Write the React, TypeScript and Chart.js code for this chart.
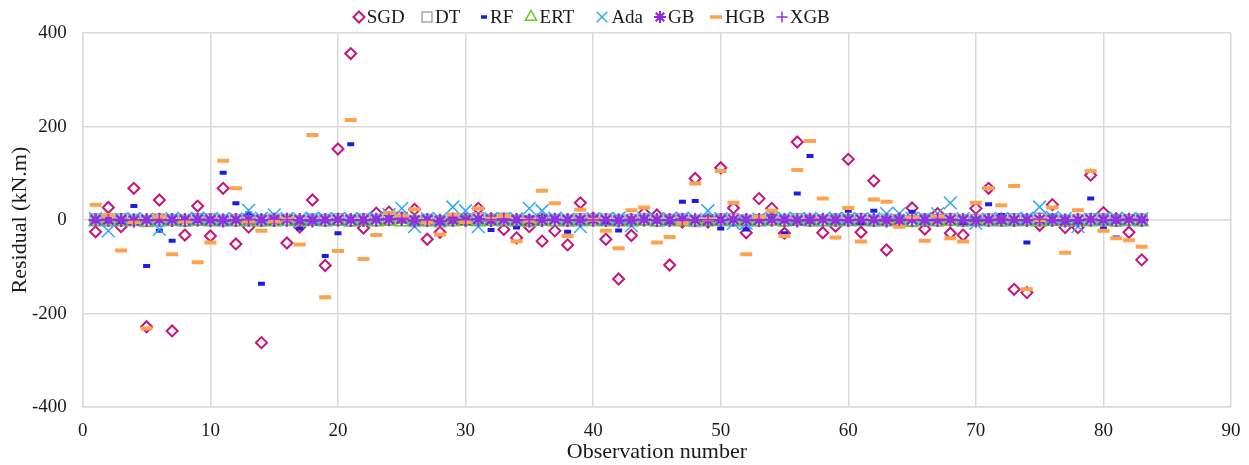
import { useEffect, useRef } from 'react';
import { Chart, registerables } from 'chart.js';
import { drawPoint } from 'chart.js/helpers';

Chart.register(...registerables);

// residuals per observation (1..83)
const sgd = [
  -25, 27, -14, 68, -228, 43, -237, -32, 30, -34, 68, -51, -15, -262, 2, -49, -15, 43, -97, 152,
  356, -17, 15, 17, 3, 23, -41, -26, 2, 1, 25, 3, -20, -38, -14, -45, -23, -53, 37, 4,
  -41, -126, -33, 15, 11, -96, -4, 89, -4, 112, 26, -27, 46, 25, -28, 167, 2, -27, -13, 130,
  -26, 84, -64, 3, 26, -19, 14, -28, -32, 25, 68, 2, -148, -155, -11, 33, -16, -16, 96, 16,
  3, -26, -85,
];
const dt = [
  1, -1, 2, 0, -2, 1, 0, -1, 2, 1, -1, 0, 2, -1, 1, 0, -2, 1, 0, 2,
  -1, 1, 0, 3, 5, -2, 0, -3, 1, 2, 4, 0, 3, -1, -2, 1, 0, -1, 2, 0,
  1, -1, 0, 2, -1, 0, 1, -2, 0, 1, 2, -1, 0, 1, -1, 2, 0, -1, 1, 0,
  2, -1, 1, 0, -2, 1, 0, 2, -1, 0, 1, -1, 2, 0, 3, 1, -1, 0, 2, 1,
  -1, 0, 1,
];
const rf = [
  2, -3, -4, 30, -98, -23, -44, 3, -2, 2, 101, 36, 14, -136, -3, 2, -18, 3, -77, -28,
  162, 3, 5, 8, 6, 4, -3, -6, 5, -4, 4, -21, 2, -16, 5, 7, 3, -25, 5, -2,
  -5, -22, 4, 6, -3, -5, 39, 41, 6, -18, 3, -20, 5, 8, -28, 57, 137, 4, 5, 20,
  -6, 20, 3, 2, 18, 7, 6, 2, -7, 3, 34, 11, 2, -48, 3, 8, 2, -4, 46, -18,
  -37, 3, 1,
];
const ert = [
  -4, -3, -4, -3, -5, -4, -3, -4, -3, -4, -3, -4, -4, -3, -4, -3, -4, -3, -4, -3,
  -4, -3, -4, -3, -4, -3, -4, -3, -4, -3, -4, -3, -4, -3, -4, -3, -4, -3, -4, -3,
  -4, -3, -4, -3, -4, -3, -4, -3, -4, -3, -4, -3, -4, -3, -4, -3, -4, -3, -4, -3,
  -4, -3, -4, -3, -4, -3, -4, -3, -4, -3, -4, -3, -4, -3, -4, -3, -4, -3, -4, -3,
  -4, -3, -4,
];
const ada = [
  3, -23, 2, 3, 2, -20, 3, 2, 4, 2, 3, 2, 21, 4, 11, 3, 2, 4, 3, 2,
  3, 2, 4, 12, 25, -14, 3, 2, 28, 20, -14, 3, 2, 3, 25, 20, 4, 2, -14, 3,
  2, 4, -12, 3, 2, 3, 4, 2, 20, 3, -7, -7, 2, 3, 4, 2, 3, 2, 4, 3,
  2, 3, 14, 14, 4, 3, 14, 37, 3, -7, 2, 3, 2, 4, 28, 6, 3, -14, 2, 3,
  4, 2, 3,
];
const gb = [
  0, 1, 0, -1, 0, 1, 0, 0, 1, 0, -1, 0, 1, 0, 0, 1, 0, -1, 0, 1,
  0, 0, 1, 2, 3, -1, 0, -2, 1, 0, 2, 0, 1, 0, -1, 0, 1, 0, 0, 1,
  0, -1, 0, 1, 0, 0, 1, 0, -1, 0, 1, 0, 0, 1, 0, -1, 0, 1, 0, 0,
  1, 0, -1, 0, 1, 0, 0, 1, 0, -1, 0, 1, 0, 0, 1, 0, -1, 0, 1, 0,
  0, 1, 0,
];
const hgb = [
  33, 11, -65, -4, -232, 7, -73, -3, -90, -48, 127, 68, -3, -23, -3, 2, -52, 182, -165, -66,
  214, -83, -32, 15, 9, 23, -5, -31, 12, -4, 25, 3, 9, -45, -1, 63, 36, -34, 22, 1,
  -23, -60, 21, 27, -48, -36, -7, 78, 2, 105, 37, -73, 7, 20, -34, 107, 169, 46, -37, 26,
  -46, 44, 39, -14, 6, -44, 7, -39, -46, 37, 68, 32, 73, -148, 0, 27, -70, 21, 105, -23,
  -39, -43, -57,
];
const xgb = [
  1, 0, 2, 0, -1, 1, 0, 1, 0, 2, 0, -1, 1, 0, 2, 1, 0, 1, -1, 0,
  1, 0, 2, 3, 4, 0, 1, -1, 2, 1, 3, 1, 2, 0, 1, 2, 0, 1, 2, 0,
  1, 0, 2, 1, 0, 1, 2, 0, 1, 0, 2, 1, 0, 1, 2, 0, 1, 0, 2, 1,
  0, 1, 2, 0, 1, 0, 2, 1, 0, 1, 2, 0, 1, 0, 2, 1, 0, 1, 2, 0,
  1, 0, 2,
];

const seriesNames = ['SGD', 'DT', 'RF', 'ERT', 'Ada', 'GB', 'HGB', 'XGB'];
const xTicks = [0, 10, 20, 30, 40, 50, 60, 70, 80, 90];
const yTicks = [-400, -200, 0, 200, 400];

const FONT = '"Liberation Serif", "Times New Roman", serif';

// marker look per series (chart marks + legend marks)
const styles = [
  { data: sgd, pointStyle: 'rectRot', color: '#C8137A', fill: 'rgba(0,0,0,0)', radius: 5.5, bw: 2, legR: 5.5 },
  { data: dt, pointStyle: 'rect', color: '#A6A6A6', fill: 'rgba(170,170,170,0.3)', radius: 7.8, bw: 1.5, legR: 7 },
  { data: rf, pointStyle: 'line', color: '#1C1CE8', fill: 'rgba(0,0,0,0)', radius: 3.5, bw: 4, legR: 3 },
  { data: ert, pointStyle: 'triangle', color: '#66CC1A', fill: 'rgba(0,0,0,0)', radius: 7.5, bw: 1.5, legR: 6.5 },
  { data: ada, pointStyle: 'crossRot', color: '#2EAAF5', fill: 'rgba(0,0,0,0)', radius: 9, bw: 1.5, legR: 7.5 },
  { data: gb, pointStyle: 'star', color: '#8C2BD9', fill: 'rgba(0,0,0,0)', radius: 7, bw: 2.2, legR: 6 },
  { data: hgb, pointStyle: 'line', color: '#FFA24D', fill: 'rgba(0,0,0,0)', radius: 6, bw: 4, legR: 6 },
  { data: xgb, pointStyle: 'cross', color: '#9B30E6', fill: 'rgba(0,0,0,0)', radius: 6, bw: 1.5, legR: 5.5 },
];

// legend row drawn on the canvas, Excel-like spacing
const legendCenters = [359, 427, 484, 531, 602, 660, 716, 782];
const LEGEND_Y = 17;

const legendRow = {
  id: 'legendRow',
  afterDraw(chart: Chart) {
    const { ctx } = chart;
    ctx.save();
    styles.forEach((s, i) => {
      const cx = legendCenters[i];
      ctx.strokeStyle = s.color;
      ctx.fillStyle = 'rgba(0,0,0,0)';
      ctx.lineWidth = s.bw > 3 ? 3.5 : s.bw;
      drawPoint(ctx, { pointStyle: s.pointStyle as any, radius: s.legR, rotation: 0, borderWidth: ctx.lineWidth }, cx, LEGEND_Y);
      ctx.font = `19px ${FONT}`;
      ctx.fillStyle = '#1a1a1a';
      ctx.textBaseline = 'middle';
      ctx.textAlign = 'left';
      const half = s.pointStyle === 'line' ? s.legR : s.pointStyle === 'rect' ? s.legR * 0.71 : s.legR * 0.85;
      ctx.fillText(seriesNames[i], cx + half + 3, LEGEND_Y + 1);
    });
    ctx.restore();
  },
};

const toPoints = (vals: number[]) => vals.map((v, i) => ({ x: i + 1, y: v }));

const App = () => {
  const chartRef = useRef<HTMLCanvasElement>(null);
  const chartInstance = useRef<Chart | null>(null);

  useEffect(() => {
    if (!chartRef.current) return;
    if (chartInstance.current) chartInstance.current.destroy();

    const datasets = styles.map((s, i) => ({
      label: seriesNames[i],
      data: toPoints(s.data),
      pointStyle: s.pointStyle as any,
      borderColor: s.color,
      backgroundColor: s.fill,
      pointRadius: s.radius,
      pointHoverRadius: s.radius,
      pointBorderWidth: s.bw,
      borderWidth: s.bw,
      showLine: false,
      order: styles.length - i, // later series on top, like Excel
    }));

    const ctx = chartRef.current.getContext('2d');
    if (!ctx) return;
    chartInstance.current = new Chart(ctx, {
      type: 'scatter',
      data: { datasets },
      plugins: [legendRow],
      options: {
        responsive: true,
        maintainAspectRatio: false,
        animation: false,
        layout: { padding: { left: 3, right: 18, top: 33, bottom: 0 } },
        plugins: {
          legend: { display: false },
          tooltip: { enabled: false },
        },
        scales: {
          x: {
            type: 'linear',
            min: 0,
            max: 90,
            afterBuildTicks: (axis) => {
              axis.ticks = xTicks.map((v) => ({ value: v }));
            },
            // invisible tick marks push the labels down without widening the right edge
            grid: { color: '#D9D9D9', lineWidth: 1.5, drawTicks: true, tickLength: 12, tickColor: 'rgba(0,0,0,0)' },
            border: { color: '#D9D9D9', width: 1.5 },
            ticks: { color: '#1a1a1a', padding: 0, font: { family: FONT, size: 19 } },
            title: {
              display: true,
              text: 'Observation number',
              color: '#1a1a1a',
              padding: { top: -1, bottom: 2 },
              font: { family: FONT, size: 22, lineHeight: 1 },
            },
          },
          y: {
            type: 'linear',
            min: -400,
            max: 400,
            afterBuildTicks: (axis) => {
              axis.ticks = yTicks.map((v) => ({ value: v }));
            },
            grid: { color: '#D9D9D9', lineWidth: 1.5, drawTicks: false },
            border: { color: '#D9D9D9', width: 1.5 },
            ticks: { color: '#1a1a1a', padding: 16, font: { family: FONT, size: 19 } },
            title: {
              display: true,
              text: 'Residual (kN.m)',
              color: '#1a1a1a',
              padding: { top: 4, bottom: -17.4 },
              font: { family: FONT, size: 22 },
            },
          },
        },
      },
    });

    return () => {
      if (chartInstance.current) {
        chartInstance.current.destroy();
        chartInstance.current = null;
      }
    };
  }, []);

  return (
    <div style={{ position: 'fixed', left: 0, top: 0, width: 1249, height: 465, background: '#fff' }}>
      <canvas ref={chartRef} />
    </div>
  );
};

export default App;
